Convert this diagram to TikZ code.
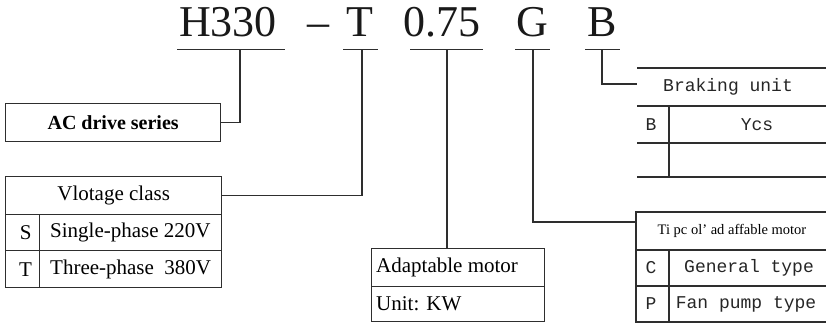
\documentclass[tikz,border=0pt]{standalone}
\usepackage{fontspec}
\setmainfont{Liberation Serif}
\setmonofont{Liberation Mono}
\definecolor{linec}{gray}{0.18}
\begin{document}
\begin{tikzpicture}[x=1pt,y=-1pt,
  toptxt/.style={font=\fontsize{44}{48}\selectfont, inner sep=0, anchor=base, text=black!90},
  uline/.style={draw=linec, line width=1pt},
  conn/.style={draw=linec, line width=1.1pt},
  cell/.style={draw=linec, line width=1.3pt, inner sep=0, anchor=north west},
  tline/.style={draw=linec, line width=1.3pt},
  lt/.style={font=\fontsize{21}{24}\selectfont, inner sep=0},
  mt/.style={font=\ttfamily\fontsize{18}{20}\selectfont, inner sep=0, text=black!85}]
\useasboundingbox (0,0) rectangle (826,323);
% top code
\node[toptxt] (tH) at (228,37) {H330};
\node[toptxt] (tD) at (318,37) {–};
\node[toptxt] (tT) at (360,37) {T};
\node[toptxt] (tP) at (441.5,37) {0.75};
\node[toptxt] (tG) at (532,37) {G};
\node[toptxt] (tB) at (602,37) {B};
% underlines
\draw[uline] (177,50) -- (285,50);
\draw[uline] (343,50) -- (378,50);
\draw[uline] (410,50) -- (483,50);
\draw[uline] (515,50) -- (550,50);
\draw[uline] (585,50) -- (620,50);
\coordinate (uH) at (240,50);
\coordinate (uT) at (362,50);
\coordinate (uP) at (447,50);
\coordinate (uG) at (533,50);
\coordinate (uB) at (602,50);
% AC drive series
\node[cell, minimum width=215pt, minimum height=38pt] (ac) at (5,103) {};
\node[lt, font=\bfseries\fontsize{20}{24}\selectfont] (actxt) at (ac.center) {AC drive series};
% Voltage class table
\node[cell, minimum width=216pt, minimum height=38pt] (vh) at (5,176) {};
\node[cell, minimum width=34pt, minimum height=36pt] (vs1) at (5,214) {};
\node[cell, minimum width=182pt, minimum height=36pt] (vs2) at (39,214) {};
\node[cell, minimum width=34pt, minimum height=37pt] (vt1) at (5,250) {};
\node[cell, minimum width=182pt, minimum height=37pt] (vt2) at (39,250) {};
\node[lt] (vhtxt) at (vh.center) {Vlotage class};
\node[lt] (vs1txt) at ([xshift=3pt]vs1.center) {S};
\node[lt, anchor=west] (vs2txt) at ([xshift=11pt]vs2.west) {Single-phase 220V};
\node[lt] (vt1txt) at ([xshift=3pt]vt1.center) {T};
\node[lt, anchor=west] (vt2txt) at ([xshift=11pt]vt2.west) {Three-phase\ \ 380V};
% Adaptable motor
\node[cell, minimum width=173pt, minimum height=38pt] (am) at (371,248) {};
\node[cell, minimum width=173pt, minimum height=35pt] (au) at (371,286) {};
\node[lt, anchor=west] (amtxt) at ([xshift=5pt]am.west) {Adaptable motor};
\node[lt, anchor=west] (autxt) at ([xshift=5pt]au.west) {Unit: KW};
% Braking unit table (open sides)
\draw[tline] (637,68) -- (826,68);
\draw[tline] (637,106) -- (826,106);
\draw[tline] (637,143) -- (826,143);
\draw[tline] (637,177) -- (826,177);
\draw[tline] (669,106) -- (669,177);
\coordinate (bu) at (637,84);
\node[mt] (butxt) at (728,87) {Braking unit};
\node[mt] (bb) at (651,124.5) {B};
\node[mt] (by) at (757,124.5) {Ycs};
% Motor type table
\draw[tline] (826,212) -- (636,212) -- (636,322) -- (826,322);
\draw[tline] (636,250) -- (826,250);
\draw[tline] (636,286) -- (826,286);
\draw[tline] (669,250) -- (669,322);
\coordinate (mtl) at (636,222);
\node[lt, font=\fontsize{14.5}{16}\selectfont] (mttxt) at (732,231) {Ti pc ol’ ad affable motor};
\node[mt] (mc) at (651,268) {C};
\node[mt] (mg) at (749,268) {General type};
\node[mt] (mp) at (651,304) {P};
\node[mt] (mf) at (746,304) {Fan pump type};
% connectors
\draw[conn] (uH) |- (ac.east);
\draw[conn] (uT) |- (vh.east);
\draw[conn] (uP) -- (uP |- am.north);
\draw[conn] (uG) |- (mtl);
\draw[conn] (uB) |- (bu);
\end{tikzpicture}
\end{document}
